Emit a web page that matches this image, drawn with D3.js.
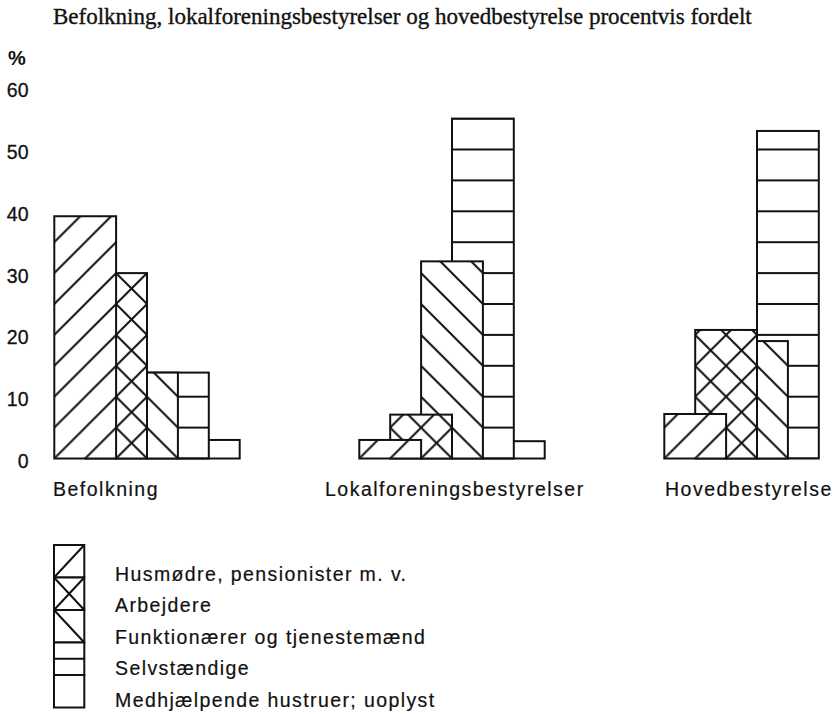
<!DOCTYPE html>
<html>
<head>
<meta charset="utf-8">
<script src="https://cdn.jsdelivr.net/npm/d3@7/dist/d3.min.js"></script>
<style>
  body { margin: 0; background: #fff; }
  svg { display: block; }
</style>
</head>
<body>
<svg id="chart" width="834" height="714"></svg>
<script>
// ---- data -------------------------------------------------------------
const title = "Befolkning, lokalforeningsbestyrelser og hovedbestyrelse procentvis fordelt";
const groups = ["Befolkning", "Lokalforeningsbestyrelser", "Hovedbestyrelse"];
const categories = [
  "Husmødre, pensionister m. v.",
  "Arbejdere",
  "Funktionærer og tjenestemænd",
  "Selvstændige",
  "Medhjælpende hustruer; uoplyst"
];
// percent shares, one value per category
const befolkning = [39.2, 30.0, 13.9, 13.9, 3.0];
const lokalforeningsbestyrelser = [3.0, 7.1, 31.9, 55.0, 2.8];
const hovedbestyrelse = [7.2, 20.8, 19.0, 53.0, 0];
const yTicks = [0, 10, 20, 30, 40, 50, 60];
const yUnitLabel = "%";

// hatch style for each category
const hatches = ["slash", "cross", "backslash", "rule", "blank"];

const seriesByGroup = [befolkning, lokalforeningsbestyrelser, hovedbestyrelse];

// ---- layout -----------------------------------------------------------
const svg = d3.select("#chart");
const ink = "#111";
const sans = "'Liberation Sans', Arial, Helvetica, sans-serif";
const serif = "'Liberation Serif', 'Times New Roman', serif";

const y = d3.scaleLinear().domain([0, 60]).range([458.5, 87.7]);
const y0 = y(0);
const step = y(0) - y(5);          // hatch spacing = 5 percentage points, also bar offset
const gx = d3.scaleLinear().domain([0, 2]).range([54.3, 664.3]);
const labelX = [53, 325, 665];

// ---- hatch patterns (anchored at the lower-left corner of each group) --
const defs = svg.append("defs");
const tilePaths = {
  slash: `M-1,${step + 1}L${step + 1},-1 M-1,1L1,-1 M${step - 1},${step + 1}L${step + 1},${step - 1}`,
  backslash: `M-1,-1L${step + 1},${step + 1} M${step - 1},-1L${step + 1},1 M-1,${step - 1}L1,${step + 1}`,
  rule: `M0,0H${step} M0,${step}H${step}`
};
tilePaths.cross = tilePaths.slash + " " + tilePaths.backslash;

groups.forEach((g, gi) => {
  hatches.forEach(h => {
    const p = defs.append("pattern")
      .attr("id", `hatch-${gi}-${h}`)
      .attr("patternUnits", "userSpaceOnUse")
      .attr("x", gx(gi)).attr("y", y0)
      .attr("width", step).attr("height", step);
    p.append("rect").attr("width", step).attr("height", step).attr("fill", "#fff");
    if (tilePaths[h]) {
      p.append("path").attr("d", tilePaths[h])
        .attr("stroke", ink).attr("stroke-width", 2).attr("fill", "none");
    }
  });
});

// ---- title -------------------------------------------------------------
svg.append("text")
  .attr("x", 53).attr("y", 24)
  .attr("font-family", serif).attr("font-size", 23)
  .attr("fill", ink).attr("stroke", ink).attr("stroke-width", 0.35)
  .text(title);

// ---- y axis labels ------------------------------------------------------
svg.append("text")
  .attr("x", 8).attr("y", 64.5)
  .attr("font-family", sans).attr("font-size", 20).attr("font-weight", "bold")
  .attr("fill", ink)
  .text(yUnitLabel);

svg.append("g").selectAll("text").data(yTicks).join("text")
  .attr("x", 28.5).attr("y", d => y(d) + 9.5)
  .attr("text-anchor", "end")
  .attr("font-family", sans).attr("font-size", 19.5)
  .attr("fill", ink).attr("stroke", ink).attr("stroke-width", 0.3)
  .text(d => d);

// ---- bars: overlapping columns, earlier categories drawn in front --------
groups.forEach((g, gi) => {
  const values = seriesByGroup[gi];
  const rows = values.map((v, ci) => ({ v, ci })).filter(d => d.v > 0).reverse();
  svg.append("g").selectAll("rect").data(rows).join("rect")
    .attr("x", d => gx(gi) + d.ci * step)
    .attr("y", d => y(d.v))
    .attr("width", 2 * step)
    .attr("height", d => y0 - y(d.v))
    .attr("fill", d => `url(#hatch-${gi}-${hatches[d.ci]})`)
    .attr("stroke", ink).attr("stroke-width", 2);

  svg.append("text")
    .attr("x", labelX[gi]).attr("y", 495.5)
    .attr("font-family", sans).attr("font-size", 19.5)
    .attr("letter-spacing", 1.5)
    .attr("fill", ink).attr("stroke", ink).attr("stroke-width", 0.2)
    .text(g);
});

// ---- legend --------------------------------------------------------------
const lx = 54, lw = 30.3, ltop = 545, lh = 32.5;
const legend = svg.append("g");
categories.forEach((c, ci) => {
  const x0 = lx, x1 = lx + lw, t = ltop + ci * lh, b = t + lh;
  legend.append("rect")
    .attr("x", x0).attr("y", t).attr("width", lw).attr("height", lh)
    .attr("fill", "#fff").attr("stroke", ink).attr("stroke-width", 2);
  const h = hatches[ci];
  const lines = [];
  if (h === "slash" || h === "cross") lines.push([x0, b, x1, t]);
  if (h === "backslash" || h === "cross") lines.push([x0, t, x1, b]);
  if (h === "rule") lines.push([x0, (t + b) / 2, x1, (t + b) / 2]);
  lines.forEach(l => legend.append("line")
    .attr("x1", l[0]).attr("y1", l[1]).attr("x2", l[2]).attr("y2", l[3])
    .attr("stroke", ink).attr("stroke-width", 2));
  legend.append("text")
    .attr("x", 115).attr("y", 581 + ci * 31.4)
    .attr("font-family", sans).attr("font-size", 19.5)
    .attr("letter-spacing", 1.4)
    .attr("fill", ink).attr("stroke", ink).attr("stroke-width", 0.2)
    .text(c);
});
</script>
</body>
</html>
